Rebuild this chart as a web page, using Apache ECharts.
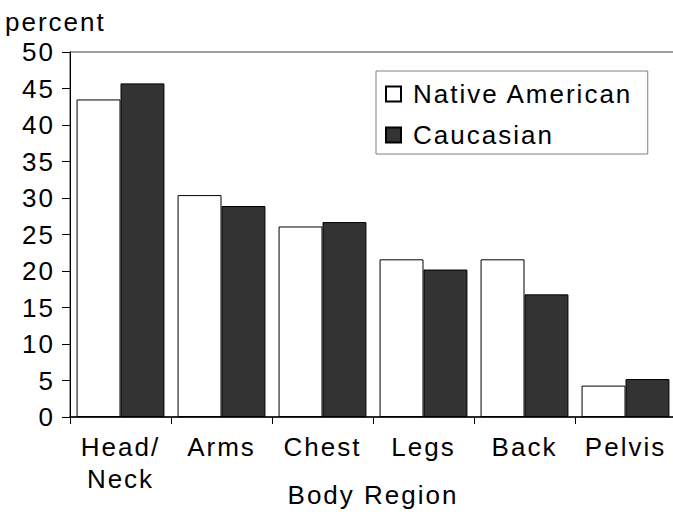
<!DOCTYPE html>
<html>
<head>
<meta charset="utf-8">
<script src="https://cdn.jsdelivr.net/npm/echarts@6/dist/echarts.min.js"></script>
<style>
  html, body { margin: 0; padding: 0; background: #fff; }
  #chart { width: 673px; height: 517px; }
  #chart text { letter-spacing: 2px; }
</style>
</head>
<body>
<div id="chart"></div>
<script>
const categories = ['Head/\nNeck', 'Arms', 'Chest', 'Legs', 'Back', 'Pelvis'];
const nativeAmerican = [43.5, 30.4, 26.1, 21.6, 21.6, 4.3];
const caucasian = [45.7, 28.9, 26.7, 20.2, 16.8, 5.2];
const seriesNames = ['Native American', 'Caucasian'];
const yTicks = { min: 0, max: 50, interval: 5 };

const FONT = 'Liberation Sans, Arial, sans-serif';
const chart = echarts.init(document.getElementById('chart'), null, { renderer: 'svg' });
chart.setOption({
  animation: false,
  backgroundColor: '#fff',
  textStyle: { fontFamily: FONT, color: '#000' },
  title: {
    text: 'percent', left: 5, top: 9, padding: 0,
    textStyle: { fontFamily: FONT, fontSize: 26, fontWeight: 'normal', color: '#000', lineHeight: 26 }
  },
  legend: {
    orient: 'vertical', left: 376, top: 71,
    padding: [10, 44, 6, 9],
    borderColor: '#808080', borderWidth: 1,
    itemWidth: 15, itemHeight: 15, itemGap: 15,
    icon: 'rect',
    textStyle: { fontFamily: FONT, fontSize: 26, color: '#000', lineHeight: 26, padding: [0, 0, 0, 7] },
    data: seriesNames
  },
  grid: {
    left: 70, right: -3, top: 52, bottom: 100,
    show: true, borderColor: '#404040', borderWidth: 1, backgroundColor: 'transparent',
    outerBoundsMode: 'none'
  },
  xAxis: {
    type: 'category', data: categories,
    axisLine: { lineStyle: { color: '#000', width: 1.5 } },
    axisTick: { show: true, length: 7, lineStyle: { color: '#000' } },
    axisLabel: { fontFamily: FONT, fontSize: 26, color: '#000', margin: 14, lineHeight: 32, interval: 0 },
    name: 'Body Region', nameLocation: 'middle', nameGap: 65, nameMoveOverlap: false,
    nameTextStyle: { fontFamily: FONT, fontSize: 26, color: '#000', lineHeight: 26 }
  },
  yAxis: {
    type: 'value', min: yTicks.min, max: yTicks.max, interval: yTicks.interval,
    axisLine: { show: true, lineStyle: { color: '#000', width: 1 } },
    axisTick: { show: true, length: 8, lineStyle: { color: '#000' } },
    axisLabel: { fontFamily: FONT, fontSize: 26, color: '#000', margin: 15 },
    splitLine: { show: false }
  },
  series: [
    {
      name: seriesNames[0], type: 'bar', data: nativeAmerican,
      barGap: '0%', barCategoryGap: '13%',
      itemStyle: { color: '#ffffff', borderColor: '#000', borderWidth: 1 }
    },
    {
      name: seriesNames[1], type: 'bar', data: caucasian,
      barGap: '0%', barCategoryGap: '13%',
      itemStyle: { color: '#333333', borderColor: '#000', borderWidth: 1 }
    }
  ]
});
</script>
</body>
</html>
